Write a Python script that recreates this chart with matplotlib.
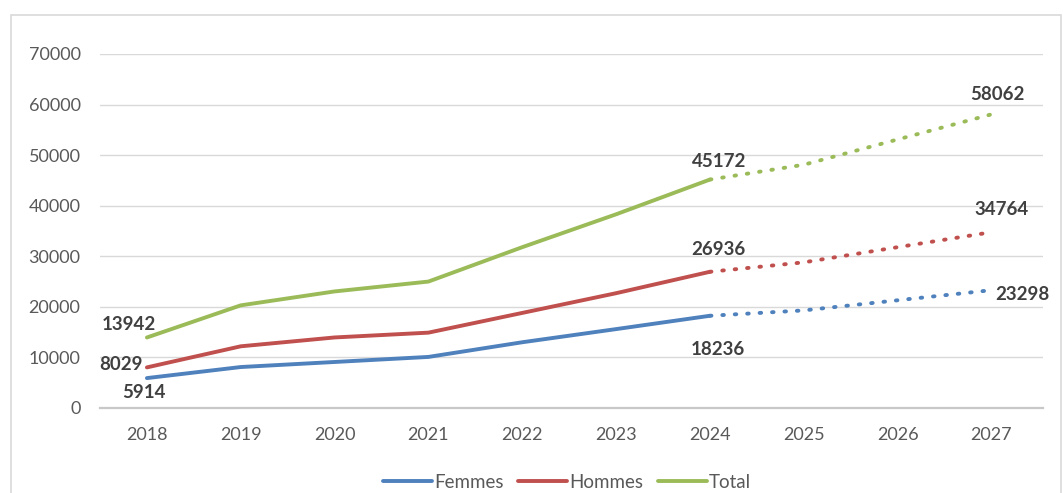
import matplotlib
matplotlib.use("Agg")
import matplotlib.pyplot as plt
from matplotlib.patches import Rectangle

plt.rcParams['font.family'] = ['Lato', 'DejaVu Sans']

years = ["2018", "2019", "2020", "2021", "2022", "2023", "2024", "2025", "2026", "2027"]
n_observed = 7  # 2018-2024 observed, 2025-2027 projected

femmes = [5914, 8100, 9100, 10100, 13000, 15600, 18236, 19300, 21300, 23298]
hommes = [8029, 12200, 13950, 14900, 18800, 22700, 26936, 28800, 31800, 34764]
total = [13942, 20300, 23050, 25000, 31800, 38300, 45172, 48100, 53100, 58062]

series_names = ["Femmes", "Hommes", "Total"]
series_values = [femmes, hommes, total]
series_colors = ["#4F81BD", "#C0504D", "#9BBB59"]

# labelled points: (series index, year index, offset in points, ha, va)
labels = [
    (2, 0, (-13, 3), "center", "bottom"),
    (1, 0, (-3, 2), "right", "center"),
    (0, 0, (-2, -4), "center", "top"),
    (2, 6, (7, 7), "center", "bottom"),
    (1, 6, (6, 10), "center", "bottom"),
    (0, 6, (6, -18), "center", "top"),
    (2, 9, (4, 8), "center", "bottom"),
    (1, 9, (7, 10), "center", "bottom"),
    (0, 9, (3, -3), "left", "center"),
]

fig = plt.figure(figsize=(10.63, 4.93), dpi=100)
fig.patches.append(Rectangle((11 / 1063, -0.01), (1061 - 11) / 1063, 1 - 15 / 493 + 0.01,
                             transform=fig.transFigure, fill=False,
                             edgecolor="#D9D9D9", linewidth=1.2))

ax = fig.add_axes([100 / 1063, 1 - 408 / 493, (1043 - 100) / 1063, (408 - 54) / 493])
x = list(range(len(years)))

for name, vals, col in zip(series_names, series_values, series_colors):
    ax.plot(x[:n_observed], vals[:n_observed], color=col, linewidth=2.8,
            solid_capstyle="round", label=name)
    ax.plot(x[n_observed - 1:], vals[n_observed - 1:], color=col, linewidth=2.8,
            linestyle=(0, (0.4, 2.8)), dash_capstyle="round")

for si, yi, off, ha, va in labels:
    v = series_values[si][yi]
    ax.annotate(f"{v}", (x[yi], v), xytext=off, textcoords="offset points",
                ha=ha, va=va, fontsize=13.5, fontweight="bold", color="#404040")

ax.set_xlim(-0.5, 9.55)
ax.set_ylim(0, 70000)
ax.set_yticks(range(0, 70001, 10000))
ax.set_xticks(x)
ax.set_xticklabels(years)
ax.yaxis.grid(True, color="#D9D9D9", linewidth=1.0)
ax.set_axisbelow(True)
for s in ["top", "right", "left"]:
    ax.spines[s].set_visible(False)
ax.spines["bottom"].set_color("#C8C8C8")
ax.spines["bottom"].set_linewidth(1.6)
ax.tick_params(axis="both", length=0, labelsize=13, labelcolor="#595959")
ax.tick_params(axis="x", pad=14)
ax.tick_params(axis="y", pad=14)

handles, names = ax.get_legend_handles_labels()
fig.legend(handles, names, loc="center", bbox_to_anchor=(567 / 1063, 1 - 482 / 493),
           ncol=3, frameon=False, fontsize=13.5, labelcolor="#595959",
           handlelength=2.6, handletextpad=0.1, columnspacing=0.8)

fig.savefig("out.png", dpi=100)
